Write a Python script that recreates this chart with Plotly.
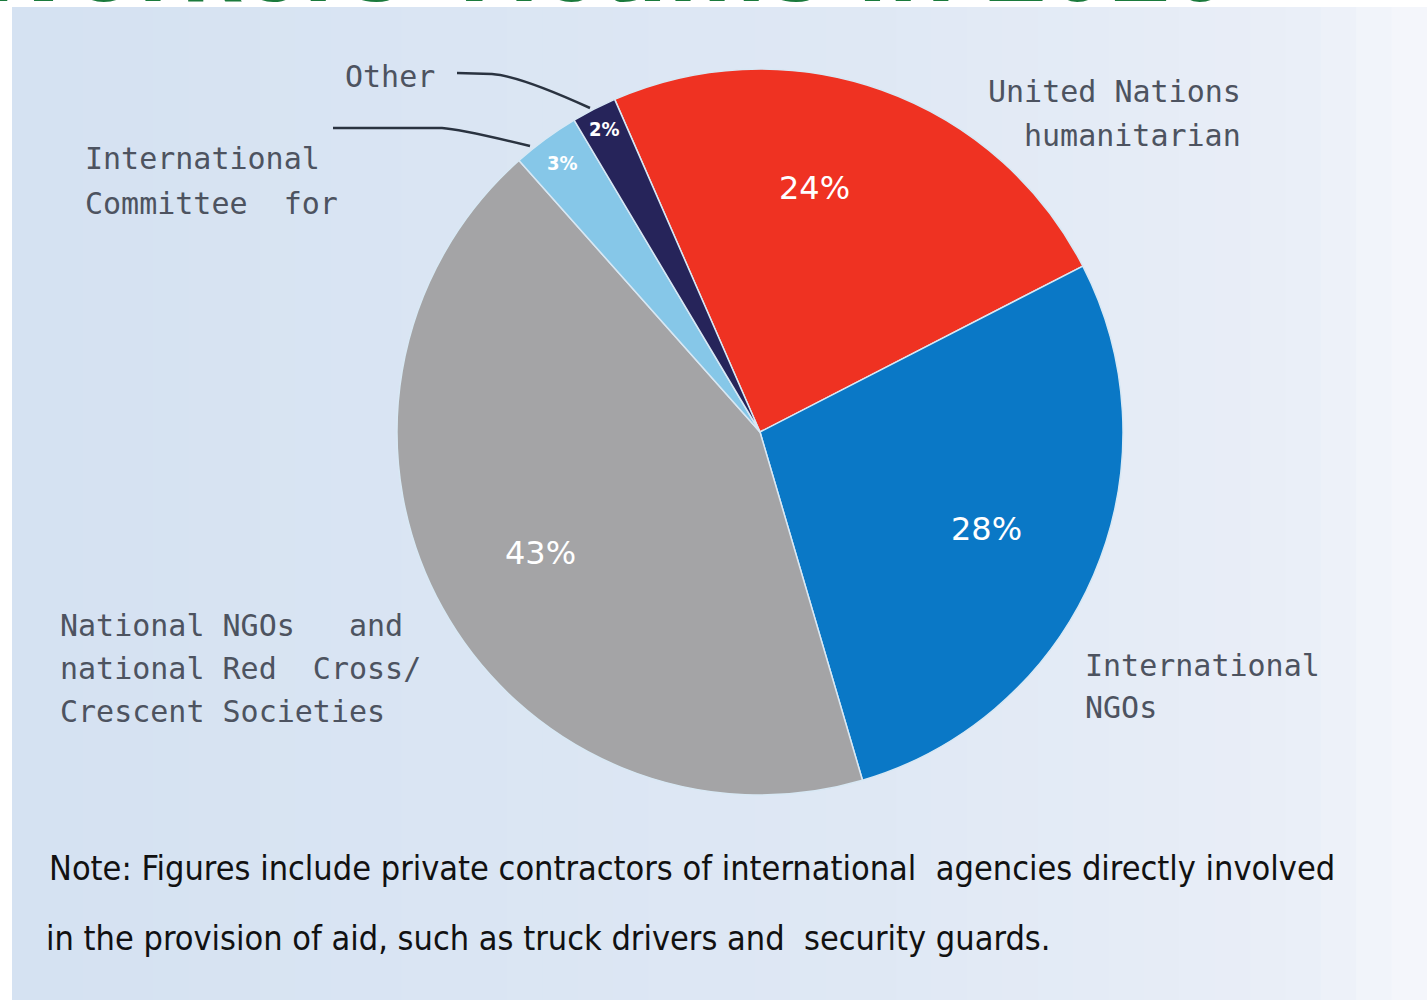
import math
import plotly.graph_objects as go

# ---- data ----
categories = ["United Nations humanitarian", "International NGOs",
              "National NGOs and national Red Cross/Crescent Societies",
              "International Committee for Red Cross", "Other"]
shares = [24, 28, 43, 3, 2]
pct_labels = ["24%", "28%", "43%", "3%", "2%"]
slice_colors = ["#ef3222", "#0a78c6", "#a4a4a6", "#86c7e8", "#26245a"]

label_lines = {
    "un": ["United Nations", "humanitarian"],
    "intl": ["International", "NGOs"],
    "nat": ["National NGOs   and", "national Red  Cross/", "Crescent Societies"],
    "icrc": ["International", "Committee  for"],
    "other": ["Other"],
}
note_lines = [
    "Note: Figures include private contractors of international  agencies directly involved",
    "in the provision of aid, such as truck drivers and  security guards.",
]
title_text = "Aid Workers Victims in 2010"

W, H = 1427, 1000
CX, CY, R = 760, 432, 363
START = -23.6  # degrees clockwise from 12 o'clock


def px(x):
    return x / W


def py(y):
    return 1 - y / H


fig = go.Figure()

fig.add_trace(go.Pie(
    labels=categories,
    values=shares,
    textinfo="none",
    sort=False,
    direction="clockwise",
    rotation=START,
    marker=dict(colors=slice_colors, line=dict(color="#d8e8f4", width=1.5)),
    domain=dict(x=[px(CX - R), px(CX + R)], y=[py(CY + R), py(CY - R)]),
    showlegend=False,
    hoverinfo="label+percent",
))

shapes = []
# background gradient approximation (vertical bands)
n_bands = 40
stops = [(12, (213, 226, 242)), (900, (224, 233, 245)), (1300, (234, 239, 248)), (W, (246, 248, 252))]


def bg_color(x):
    for (xa, ca), (xb, cb) in zip(stops[:-1], stops[1:]):
        if xa <= x <= xb:
            t = (x - xa) / (xb - xa)
            return tuple(int(ca[i] * (1 - t) + cb[i] * t) for i in range(3))
    return stops[-1][1]


for i in range(n_bands):
    a = 12 + (W - 12) * i / n_bands
    b = 12 + (W - 12) * (i + 1) / n_bands + 1
    c = bg_color((a + b) / 2)
    shapes.append(dict(type="rect", xref="paper", yref="paper", layer="below",
                       x0=px(a), x1=min(1, px(b)), y0=0, y1=py(7),
                       fillcolor=f"rgb({c[0]},{c[1]},{c[2]})", line=dict(width=0)))

# leader lines
shapes.append(dict(type="path", xref="paper", yref="paper",
                   path=f"M {px(457)} {py(73)} L {px(492)} {py(74)} Q {px(520)} {py(76)} {px(590)} {py(108)}",
                   line=dict(color="#2a3340", width=2.5)))
shapes.append(dict(type="path", xref="paper", yref="paper",
                   path=f"M {px(333)} {py(128)} L {px(442)} {py(128)} Q {px(460)} {py(129)} {px(530)} {py(146)}",
                   line=dict(color="#2a3340", width=2.5)))

annotations = []

# percentage labels placed at slice mid-angles (derived from the values)
total = sum(shares)
radial_frac = [0.69, 0.68, 0.69, 0.92, 0.94]
angle_adj = [-7, 0, 0, 0, 0]
pct_sizes = [32, 32, 32, 20, 20]
cum = 0
for v, lab, rf, da, fs in zip(shares, pct_labels, radial_frac, angle_adj, pct_sizes):
    mid = START + (cum + v / 2) / total * 360 + da
    cum += v
    ang = math.radians(mid)
    x = CX + rf * R * math.sin(ang)
    y = CY - rf * R * math.cos(ang)
    annotations.append(dict(x=px(x), y=py(y), xref="paper", yref="paper", text=lab,
                            showarrow=False, xanchor="center", yanchor="middle",
                            font=dict(family="DejaVu Sans" if fs > 25 else "DejaVu Sans Condensed, DejaVu Sans",
                                      size=fs, color="white",
                                      weight="normal" if fs > 25 else "bold")))

lab_font = dict(family="DejaVu Sans Mono", size=30, color="#4d5360")


def add_lines(lines, x, y0, dy, anchor):
    for k, line in enumerate(lines):
        annotations.append(dict(x=px(x), y=py(y0 + k * dy), xref="paper", yref="paper",
                                text=line, showarrow=False, xanchor=anchor, yanchor="middle",
                                font=lab_font))


add_lines(label_lines["other"], 437, 77, 43, "right")
add_lines(label_lines["icrc"], 83, 158, 45, "left")
add_lines(label_lines["un"], 1243, 92, 43, "right")
add_lines(label_lines["intl"], 1083, 665, 42, "left")
add_lines(label_lines["nat"], 58, 625, 43, "left")

note_font = dict(family="DejaVu Sans Condensed, Liberation Sans Narrow, Arial Narrow", size=34, color="#111111")
annotations.append(dict(x=px(47), y=py(868), xref="paper", yref="paper", text=note_lines[0],
                        showarrow=False, xanchor="left", yanchor="middle", font=note_font))
annotations.append(dict(x=px(44), y=py(938), xref="paper", yref="paper", text=note_lines[1],
                        showarrow=False, xanchor="left", yanchor="middle", font=note_font))

# clipped title at top (as in the reference, only its lower edge shows)
annotations.append(dict(x=px(1232), y=py(6), xref="paper", yref="paper", text=title_text,
                        showarrow=False, xanchor="right", yanchor="bottom", yshift=-20,
                        font=dict(family="Liberation Sans", size=110, color="#1b7a3c", weight="bold")))

fig.update_layout(
    width=W, height=H,
    margin=dict(l=0, r=0, t=0, b=0),
    paper_bgcolor="white",
    plot_bgcolor="white",
    shapes=shapes,
    annotations=annotations,
)

fig.write_html("out.html")
